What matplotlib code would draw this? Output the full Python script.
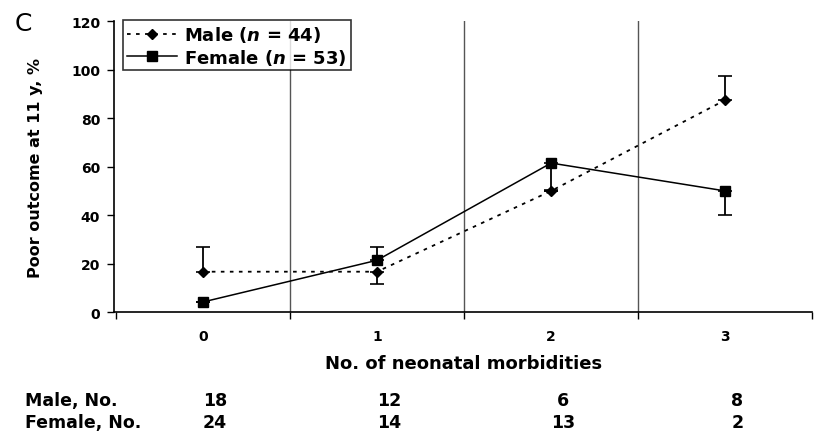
import matplotlib
matplotlib.use("Agg")
import matplotlib.pyplot as plt
import matplotlib.transforms as mtrans

plt.rcParams['font.family'] = ['DejaVu Sans']
plt.rcParams['mathtext.fontset'] = 'custom'
plt.rcParams['mathtext.it'] = 'DejaVu Sans:italic:bold'
plt.rcParams['mathtext.rm'] = 'DejaVu Sans:bold'

morbidities = [0, 1, 2, 3]
male_pct = [16.7, 16.7, 50.0, 87.5]
female_pct = [4.2, 21.4, 61.5, 50.0]
male_err_low = [0, 5.2, 0, 0]
male_err_high = [10.0, 0, 0, 10.0]
female_err_low = [0, 0, 11.0, 10.0]
female_err_high = [0, 5.3, 0, 0]
male_n = [18, 12, 6, 8]
female_n = [24, 14, 13, 2]
yticks = [0, 20, 40, 60, 80, 100, 120]

fig = plt.figure(figsize=(8.14, 4.35), dpi=100)
ax = fig.add_axes([0.140, 0.280, 0.858, 0.669])

for xv in [0.5, 1.5, 2.5]:
    ax.axvline(xv, color='#555555', lw=1.0, zorder=1)

ax.errorbar(morbidities, male_pct, yerr=[male_err_low, male_err_high], fmt='none',
            ecolor='black', elinewidth=1.3, capsize=5, capthick=1.2, zorder=3)
ax.errorbar(morbidities, female_pct, yerr=[female_err_low, female_err_high], fmt='none',
            ecolor='black', elinewidth=1.3, capsize=5, capthick=1.2, zorder=3)

ax.plot(morbidities, male_pct, linestyle=(0, (2, 3)), color='black', lw=1.3,
        marker='D', markersize=5, label=r'Male ($n$ = 44)', zorder=4)
ax.plot(morbidities, female_pct, linestyle='-', color='black', lw=1.1,
        marker='s', markersize=7, label=r'Female ($n$ = 53)', zorder=4)

ax.set_xlim(-0.51, 3.5)
ax.set_ylim(0, 120)
ax.set_yticks(yticks)
ax.set_yticklabels([str(v) for v in yticks], fontweight='bold', fontsize=10)
ax.set_xticks([-0.5, 0.5, 1.5, 2.5, 3.5])
ax.set_xticklabels([])
ax.set_xticks(morbidities, minor=True)
ax.set_xticklabels([str(v) for v in morbidities], minor=True, fontweight='bold', fontsize=10)
ax.tick_params(axis='x', which='minor', length=0, pad=12)
ax.tick_params(axis='x', which='major', length=5, width=1, direction='out')
ax.tick_params(axis='y', length=5, width=1, direction='out', pad=5)

for s in ['top', 'right']:
    ax.spines[s].set_visible(False)
ax.spines['left'].set_linewidth(1.2)
ax.spines['bottom'].set_linewidth(1.2)

ax.set_ylabel('Poor outcome at 11 y, %', fontweight='bold', fontsize=11.5, labelpad=20)
ax.set_xlabel('No. of neonatal morbidities', fontweight='bold', fontsize=13, labelpad=8)

leg = ax.legend(loc='upper left', bbox_to_anchor=(0.013, 1.003), frameon=True, fancybox=False,
                edgecolor='black', fontsize=13, handlelength=2.8, borderpad=0.2,
                labelspacing=0.15, handletextpad=0.4, borderaxespad=0.0)
leg.get_frame().set_linewidth(1.2)
for t in leg.get_texts():
    t.set_fontweight('bold')

fig.text(0.018, 0.945, 'C', fontsize=18, va='center', ha='left')

tr = mtrans.blended_transform_factory(ax.transData, fig.transFigure)
fig.text(0.031, 0.078, 'Male, No.', fontweight='bold', fontsize=12.5, va='center')
fig.text(0.031, 0.027, 'Female, No.', fontweight='bold', fontsize=12.5, va='center')
for xv, m, f in zip(morbidities, male_n, female_n):
    ax.text(xv + 0.07, 0.078, str(m), transform=tr, ha='center', va='center',
            fontweight='bold', fontsize=12.5, clip_on=False)
    ax.text(xv + 0.07, 0.027, str(f), transform=tr, ha='center', va='center',
            fontweight='bold', fontsize=12.5, clip_on=False)

fig.savefig('out.png', dpi=100)
